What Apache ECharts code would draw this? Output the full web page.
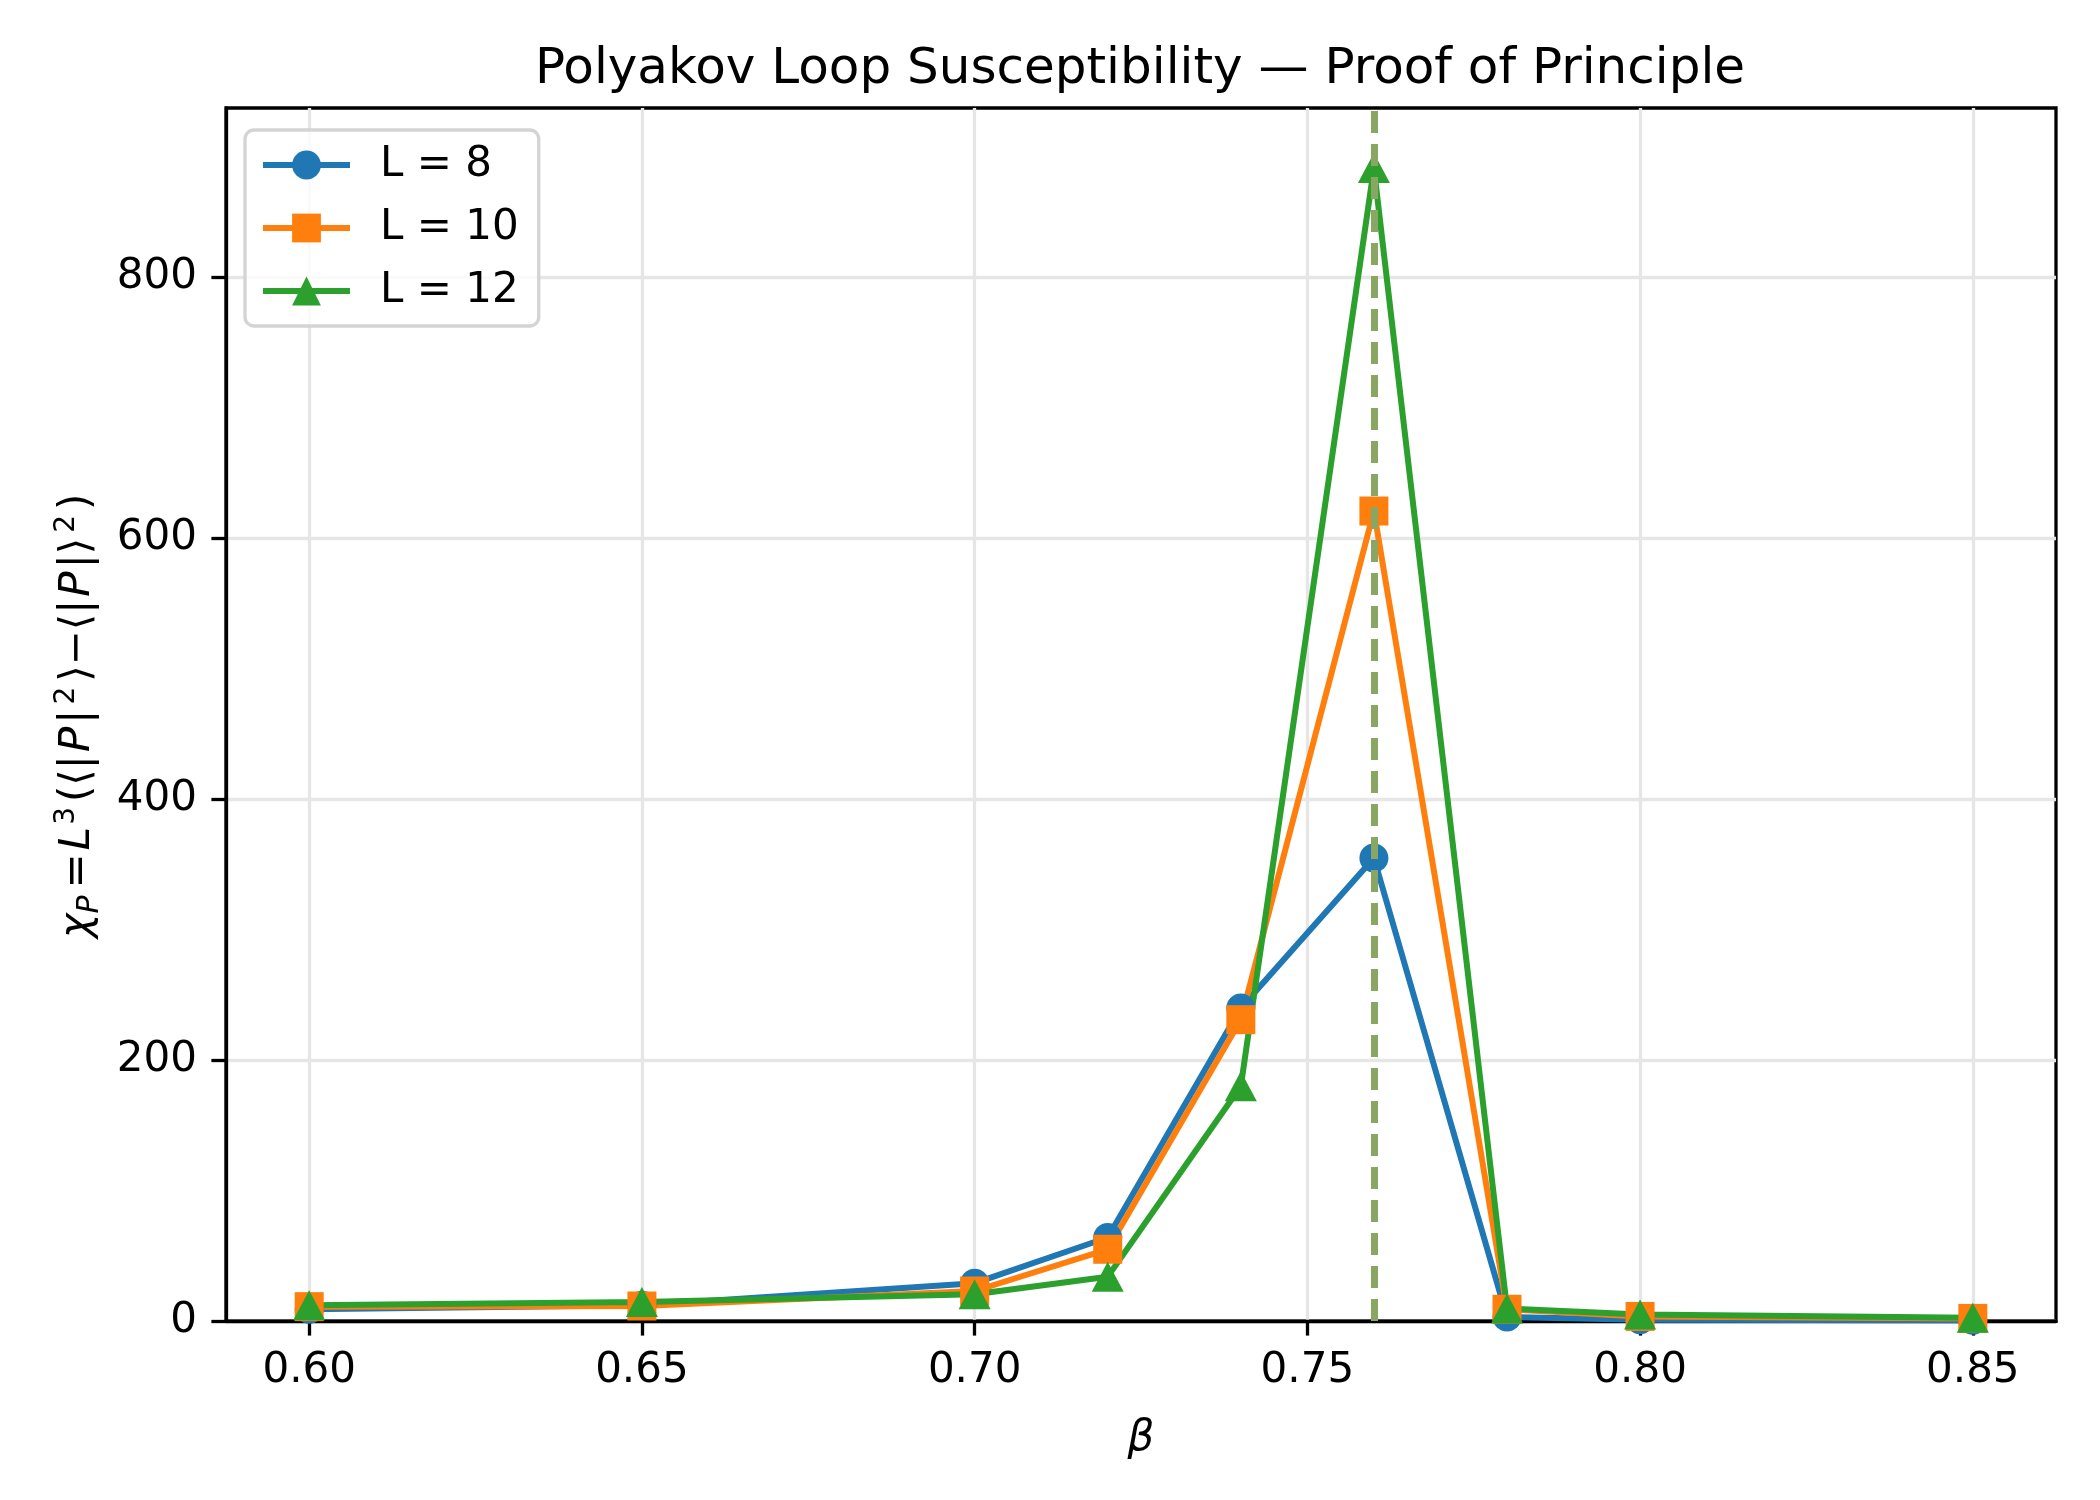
<!DOCTYPE html>
<html>
<head>
<meta charset="utf-8">
<title>Polyakov Loop Susceptibility</title>
<script src="https://cdn.jsdelivr.net/npm/echarts@6/dist/echarts.min.js"></script>
<style>
  html, body { margin: 0; padding: 0; background: #ffffff; }
  #chart { width: 2100px; height: 1500px; }
</style>
</head>
<body>
<div id="chart"></div>
<script>
// beta values and susceptibility per lattice size
var betas = [0.60, 0.65, 0.70, 0.72, 0.74, 0.76, 0.78, 0.80, 0.85];
var chiL8 = [9, 12, 29, 64, 240, 355, 3, 1, 0.5];
var chiL10 = [11, 11.5, 23, 55, 231, 621, 9, 3.5, 2];
var chiL12 = [12, 14.5, 20.5, 34, 180, 884, 9.5, 5, 2.5];
var seriesNames = ['L = 8', 'L = 10', 'L = 12'];
var xTicks = [0.60, 0.65, 0.70, 0.75, 0.80, 0.85];
var yTicks = [0, 200, 400, 600, 800];
var betaPeak = 0.76;

var FONT = 'DejaVu Sans';

function pairs(xs, ys) {
    var out = [];
    for (var i = 0; i < xs.length; i++) {
        out.push([xs[i], ys[i]]);
    }
    return out;
}

var chart = echarts.init(document.getElementById('chart'));

var lineSeries = function (name, data, color, symbol, size) {
    return {
        name: name,
        type: 'line',
        data: pairs(betas, data),
        symbol: symbol,
        symbolSize: size,
        showAllSymbol: true,
        lineStyle: { color: color, width: 6 },
        itemStyle: { color: color },
        emphasis: { disabled: true },
        animation: false
    };
};

var s8 = lineSeries(seriesNames[0], chiL8, '#1f77b4', 'circle', 29);
var s10 = lineSeries(seriesNames[1], chiL10, '#ff7f0e', 'rect', 29);
var s12 = lineSeries(seriesNames[2], chiL12, '#2ca02c', 'triangle', [32, 30]);
s12.markLine = {
    silent: true,
    symbol: 'none',
    label: { show: false },
    lineStyle: { color: 'rgb(137,166,98)', width: 7, type: [22, 11] },
    data: [{ xAxis: betaPeak }],
    animation: false
};

var option = {
    backgroundColor: '#ffffff',
    animation: false,
    textStyle: { fontFamily: FONT },
    title: {
        text: 'Polyakov Loop Susceptibility \u2014 Proof of Principle',
        left: 1135,
        top: 40,
        textAlign: 'center',
        textStyle: { fontFamily: FONT, fontSize: 50, fontWeight: 'normal', color: '#000' }
    },
    grid: {
        left: 226, right: 44, top: 108, bottom: 179,
        show: true,
        borderColor: '#000',
        borderWidth: 3.3,
        backgroundColor: 'transparent'
    },
    legend: {
        orient: 'vertical',
        left: 245,
        top: 130,
        padding: [14, 20, 14, 15],
        itemWidth: 87,
        itemHeight: 36,
        itemGap: 21,
        backgroundColor: 'rgba(255,255,255,0.8)',
        borderColor: '#d4d4d4',
        borderWidth: 3.3,
        borderRadius: 9,
        lineStyle: { width: 6 },
        data: seriesNames,
        textStyle: {
            fontFamily: FONT, fontSize: 42, color: '#000',
            lineHeight: 42, padding: [0, 0, 0, 25]
        }
    },
    xAxis: {
        type: 'value',
        min: 0.5875,
        max: 0.8625,
        name: '\u03b2',
        nameLocation: 'middle',
        nameGap: 97,
        nameTextStyle: { fontFamily: FONT, fontSize: 42, fontStyle: 'italic', color: '#000' },
        axisLine: { show: true, onZero: false, lineStyle: { color: '#000', width: 3.3 } },
        axisTick: {
            show: true, length: 14.6, inside: false,
            customValues: xTicks,
            lineStyle: { color: '#000', width: 3.3 }
        },
        axisLabel: {
            margin: 29,
            customValues: xTicks,
            fontFamily: FONT, fontSize: 42, color: '#000',
            formatter: function (v) { return v.toFixed(2); }
        },
        splitLine: {
            show: true,
            customValues: xTicks,
            lineStyle: { color: '#e6e6e6', width: 3.3 }
        }
    },
    yAxis: {
        type: 'value',
        min: 0,
        max: 930,
        name: '{n|\u03c7}{s|P}{r|=}{n|L}{p|3}{r|(\u27e8|}{n|P}{r||}{p|2}{r|\u27e9\u2212\u27e8|}{n|P}{r||\u27e9}{p|2}{r|)}',
        nameLocation: 'middle',
        nameRotate: 90,
        nameGap: 127,
        nameTextStyle: {
            fontFamily: FONT, fontSize: 42, color: '#000',
            rich: {
                n: { fontFamily: FONT, fontSize: 42, fontStyle: 'italic', color: '#000', verticalAlign: 'bottom' },
                r: { fontFamily: FONT, fontSize: 42, color: '#000', verticalAlign: 'bottom', padding: [0, 3, 0, 3] },
                s: { fontFamily: FONT, fontSize: 30, fontStyle: 'italic', color: '#000', verticalAlign: 'bottom', padding: [0, 4, -6, 0] },
                p: { fontFamily: FONT, fontSize: 28, color: '#000', verticalAlign: 'top', padding: [0, 2, 18, 2] }
            }
        },
        axisLine: { show: true, lineStyle: { color: '#000', width: 3.3 } },
        axisTick: {
            show: true, length: 14.6, inside: false,
            customValues: yTicks,
            lineStyle: { color: '#000', width: 3.3 }
        },
        axisLabel: {
            margin: 29,
            customValues: yTicks,
            fontFamily: FONT, fontSize: 42, color: '#000'
        },
        splitLine: {
            show: true,
            customValues: yTicks,
            lineStyle: { color: '#e6e6e6', width: 3.3 }
        }
    },
    series: [s8, s10, s12]
};

chart.setOption(option);
</script>
</body>
</html>
